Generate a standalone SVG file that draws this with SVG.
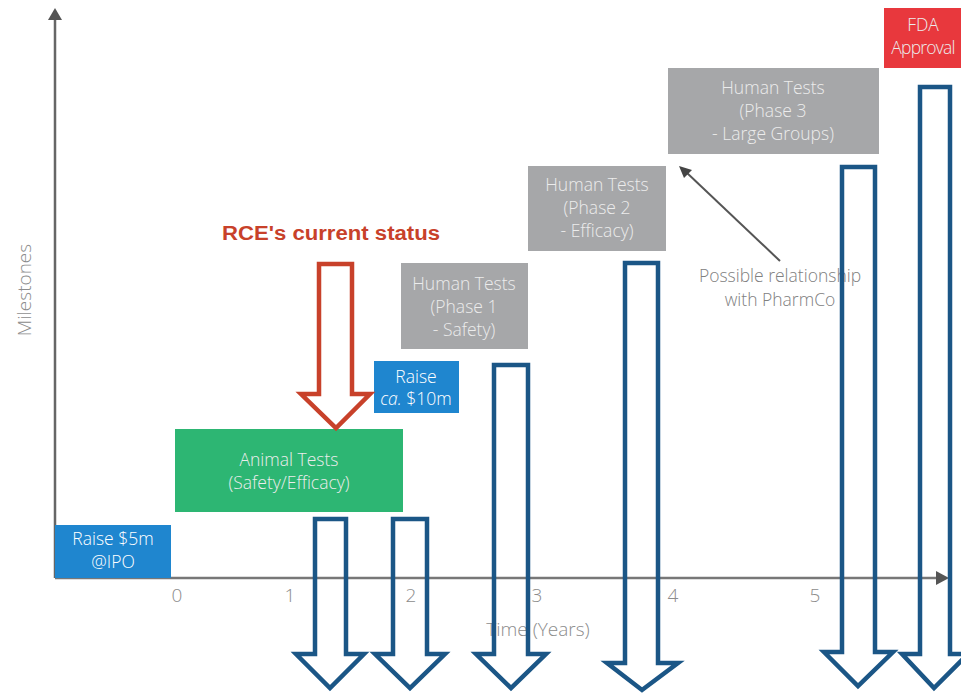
<svg xmlns="http://www.w3.org/2000/svg" width="961" height="693" viewBox="0 0 961 693">
<defs>
<style>
.t{font-family:"Open Sans","Liberation Sans",sans-serif;font-size:17.5px;text-anchor:middle;font-weight:300}
.w{fill:#ffffff}
.g{fill:#ececec}
.ax{fill:#8c8c8c;font-family:"Open Sans","Liberation Sans",sans-serif;font-size:19px;font-weight:300;text-anchor:middle}
.bl{fill:none;stroke:#1b5686;stroke-width:4.5}
</style>
</defs>
<rect width="961" height="693" fill="#ffffff"/>
<g id="axes">
<line x1="55" y1="18" x2="55" y2="578" stroke="#666" stroke-width="2.5"/>
<polygon points="48,20 62,20 55,8" fill="#555"/>
<line x1="55" y1="578" x2="938" y2="578" stroke="#777" stroke-width="2.5"/>
<polygon points="936,571 936,585 949,578" fill="#555"/>
<text class="ax" x="177" y="602">0</text>
<text class="ax" x="290" y="602">1</text>
<text class="ax" x="411" y="602">2</text>
<text class="ax" x="537" y="602">3</text>
<text class="ax" x="673" y="602">4</text>
<text class="ax" x="815" y="602">5</text>
<text class="ax" x="538" y="636" font-size="21">Time (Years)</text>
<text class="ax" x="0" y="0" transform="translate(31,290) rotate(-90)" font-size="18.5">Milestones</text>
</g>
<g id="ipo">
<rect x="55" y="525" width="116" height="53" fill="#1f86cf"/>
<text class="t w" x="113" y="545">Raise $5m</text>
<text class="t w" x="113" y="568">@IPO</text>
</g>
<g id="animal">
<rect x="175" y="429" width="228" height="83" fill="#2db673"/>
<text class="t g" x="289" y="466">Animal Tests</text>
<text class="t g" x="289" y="489">(Safety/Efficacy)</text>
</g>
<g id="raise10">
<rect x="374" y="361" width="85" height="52" fill="#1f86cf"/>
<text class="t w" x="416" y="383">Raise</text>
<text class="t w" x="416" y="405"><tspan font-style="italic">ca.</tspan> $10m</text>
</g>
<g id="phase1">
<rect x="401" y="263" width="127" height="86" fill="#a6a7a9"/>
<text class="t g" x="464" y="290">Human Tests</text>
<text class="t g" x="464" y="313">(Phase 1</text>
<text class="t g" x="464" y="336">- Safety)</text>
</g>
<g id="phase2">
<rect x="528" y="166" width="138" height="85" fill="#a6a7a9"/>
<text class="t g" x="597" y="191">Human Tests</text>
<text class="t g" x="597" y="214">(Phase 2</text>
<text class="t g" x="597" y="237">- Efficacy)</text>
</g>
<g id="phase3">
<rect x="668" y="68" width="211" height="86" fill="#a6a7a9"/>
<text class="t g" x="773" y="94">Human Tests</text>
<text class="t g" x="773" y="117">(Phase 3</text>
<text class="t g" x="773" y="140">- Large Groups)</text>
</g>
<g id="fda">
<rect x="884" y="8" width="77" height="60" fill="#e8383d"/>
<text class="t g" x="923" y="31" font-size="16">FDA</text>
<text class="t g" x="923" y="54" font-size="16" letter-spacing="-0.8">Approval</text>
</g>
<g id="status">
<text x="331" y="240" font-family="'Liberation Sans',sans-serif" font-weight="bold" font-size="20" fill="#c8412a" text-anchor="middle" textLength="218" lengthAdjust="spacingAndGlyphs">RCE's current status</text>
</g>
<g id="pharmco">
<text class="t" x="780" y="282" fill="#808080" font-size="19">Possible relationship</text>
<text class="t" x="780" y="306" fill="#808080" font-size="19">with PharmCo</text>
</g>
<g id="connectors">
<line x1="780" y1="261" x2="686" y2="172" stroke="#555" stroke-width="2"/>
<polygon points="679,166 692,170 684,178" fill="#444"/>
<path d="M319,264 H352 V394 H370 L336,428 L301,394 H319 Z" fill="none" stroke="#c8412a" stroke-width="4.5"/>
<path class="bl" d="M315,519 H346 V654 H364 L330,688 L296,654 H315 Z"/>
<path class="bl" d="M393,519 H427 V654 H445 L410,688 L375,654 H393 Z"/>
<path class="bl" d="M494,365 H528 V654 H546 L511,688 L476,654 H494 Z"/>
<path class="bl" d="M625,263 H658 V663 H678 L642,690 L607,663 H625 Z"/>
<path class="bl" d="M842,167 H875 V652 H893 L858,686 L824,652 H842 Z"/>
<path class="bl" d="M920,87 H950 V654 H968 L934,688 L902,654 H920 Z"/>
</g>
</svg>
